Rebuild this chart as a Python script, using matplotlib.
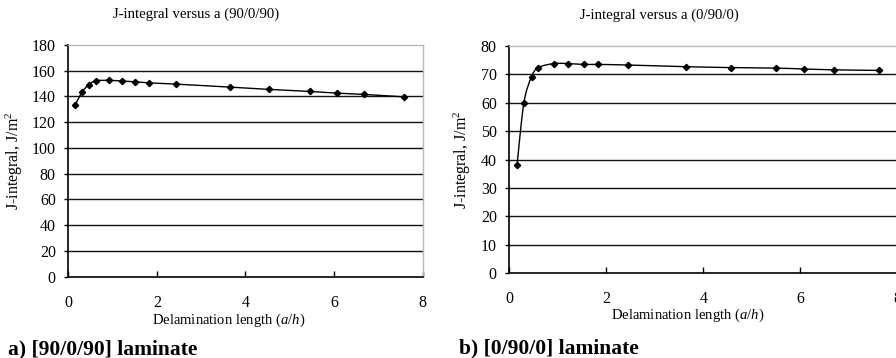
import matplotlib
matplotlib.use("Agg")
import matplotlib.pyplot as plt
import numpy as np
from matplotlib.path import Path
from matplotlib.patches import PathPatch

plt.rcParams['font.family'] = ['Liberation Serif', 'DejaVu Serif']
plt.rcParams['mathtext.fontset'] = 'custom'
plt.rcParams['mathtext.rm'] = 'Liberation Serif'
plt.rcParams['mathtext.it'] = 'Liberation Serif:italic'

# Data: (90/0/90)
a_left = [0.16, 0.31, 0.46, 0.62, 0.92, 1.22, 1.51, 1.83, 2.43, 3.64, 4.54, 5.46, 6.07, 6.68, 7.57]
j_left = [133.5, 143.4, 149.1, 152.2, 152.5, 152.0, 151.4, 150.6, 149.6, 147.3, 145.5, 143.9, 142.6, 141.6, 139.7]

# Data: (0/90/0)
a_right = [0.16, 0.30, 0.46, 0.60, 0.92, 1.22, 1.53, 1.82, 2.44, 3.65, 4.56, 5.49, 6.08, 6.70, 7.61]
j_right = [38.1, 59.9, 69.2, 72.4, 73.8, 73.8, 73.5, 73.5, 73.3, 72.7, 72.4, 72.2, 71.9, 71.6, 71.4]

titles = ["J-integral versus a (90/0/90)", "J-integral versus a (0/90/0)"]
captions = ["a) [90/0/90] laminate", "b) [0/90/0] laminate"]
xticks = [0, 2, 4, 6, 8]
yticks_left = [0, 20, 40, 60, 80, 100, 120, 140, 160, 180]
yticks_right = [0, 10, 20, 30, 40, 50, 60, 70, 80]


def smooth_path(x, y, t=1/6):
    # Catmull-Rom style smoothing as cubic Bezier path (Excel-like smoothed line)
    x = np.asarray(x, float)
    y = np.asarray(y, float)
    n = len(x)
    verts = [(x[0], y[0])]
    codes = [Path.MOVETO]
    for i in range(n - 1):
        p0 = np.array([x[max(i - 1, 0)], y[max(i - 1, 0)]])
        p1 = np.array([x[i], y[i]])
        p2 = np.array([x[i + 1], y[i + 1]])
        p3 = np.array([x[min(i + 2, n - 1)], y[min(i + 2, n - 1)]])
        c1 = p1 + (p2 - p0) * t
        c2 = p2 - (p3 - p1) * t
        verts += [tuple(c1), tuple(c2), tuple(p2)]
        codes += [Path.CURVE4] * 3
    return Path(verts, codes)


fig = plt.figure(figsize=(8.96, 3.58), dpi=100)
axL = fig.add_axes([0.0762, 0.2271, 0.3955, 0.6472])
axR = fig.add_axes([0.5684, 0.2366, 0.4333, 0.6350])

for ax, xs, ys, yt, xpad in [(axL, a_left, j_left, yticks_left, 13.5), (axR, a_right, j_right, yticks_right, 12.5)]:
    ax.set_xlim(0, 8)
    ax.set_ylim(yt[0], yt[-1])
    ax.set_xticks(xticks)
    ax.set_yticks(yt)
    for v in yt[1:-1]:
        ax.axhline(v, color='#111111', lw=1.0, zorder=1)
    for s in ['top', 'right']:
        ax.spines[s].set_color('#b8b8b8')
        ax.spines[s].set_linewidth(1.0)
    for s in ['left', 'bottom']:
        ax.spines[s].set_color('black')
        ax.spines[s].set_linewidth(1.2)
    ax.tick_params(axis='x', direction='in', length=4, width=1, pad=xpad, labelsize=11.5)
    ax.tick_params(axis='y', direction='out', length=3, width=1, pad=6, labelsize=11.5)
    ax.add_patch(PathPatch(smooth_path(xs, ys), facecolor='none', edgecolor='black', lw=1.0, zorder=3))
    ax.plot(xs, ys, linestyle='none', marker='D', ms=3.2, color='black', zorder=4)
    ax.set_ylabel(r'J-integral, J/m$^2$', fontsize=11.5)

axL.yaxis.set_label_coords(-0.122, 0.5)
axR.yaxis.set_label_coords(-0.0935, 0.5)

fig.text(0.219, 0.961, titles[0], ha='center', va='center', fontsize=10.6)
fig.text(0.7355, 0.958, titles[1], ha='center', va='center', fontsize=10.6)
fig.text(0.255, 0.106, r'Delamination length ($a/h$)', ha='center', va='center', fontsize=10.5)
fig.text(0.768, 0.12, r'Delamination length ($a/h$)', ha='center', va='center', fontsize=10.5)
fig.text(0.009, 0.01, captions[0], ha='left', va='baseline', fontsize=15.5, fontweight='bold')
fig.text(0.512, 0.013, captions[1], ha='left', va='baseline', fontsize=15.5, fontweight='bold')

fig.savefig('out.png', dpi=100)
